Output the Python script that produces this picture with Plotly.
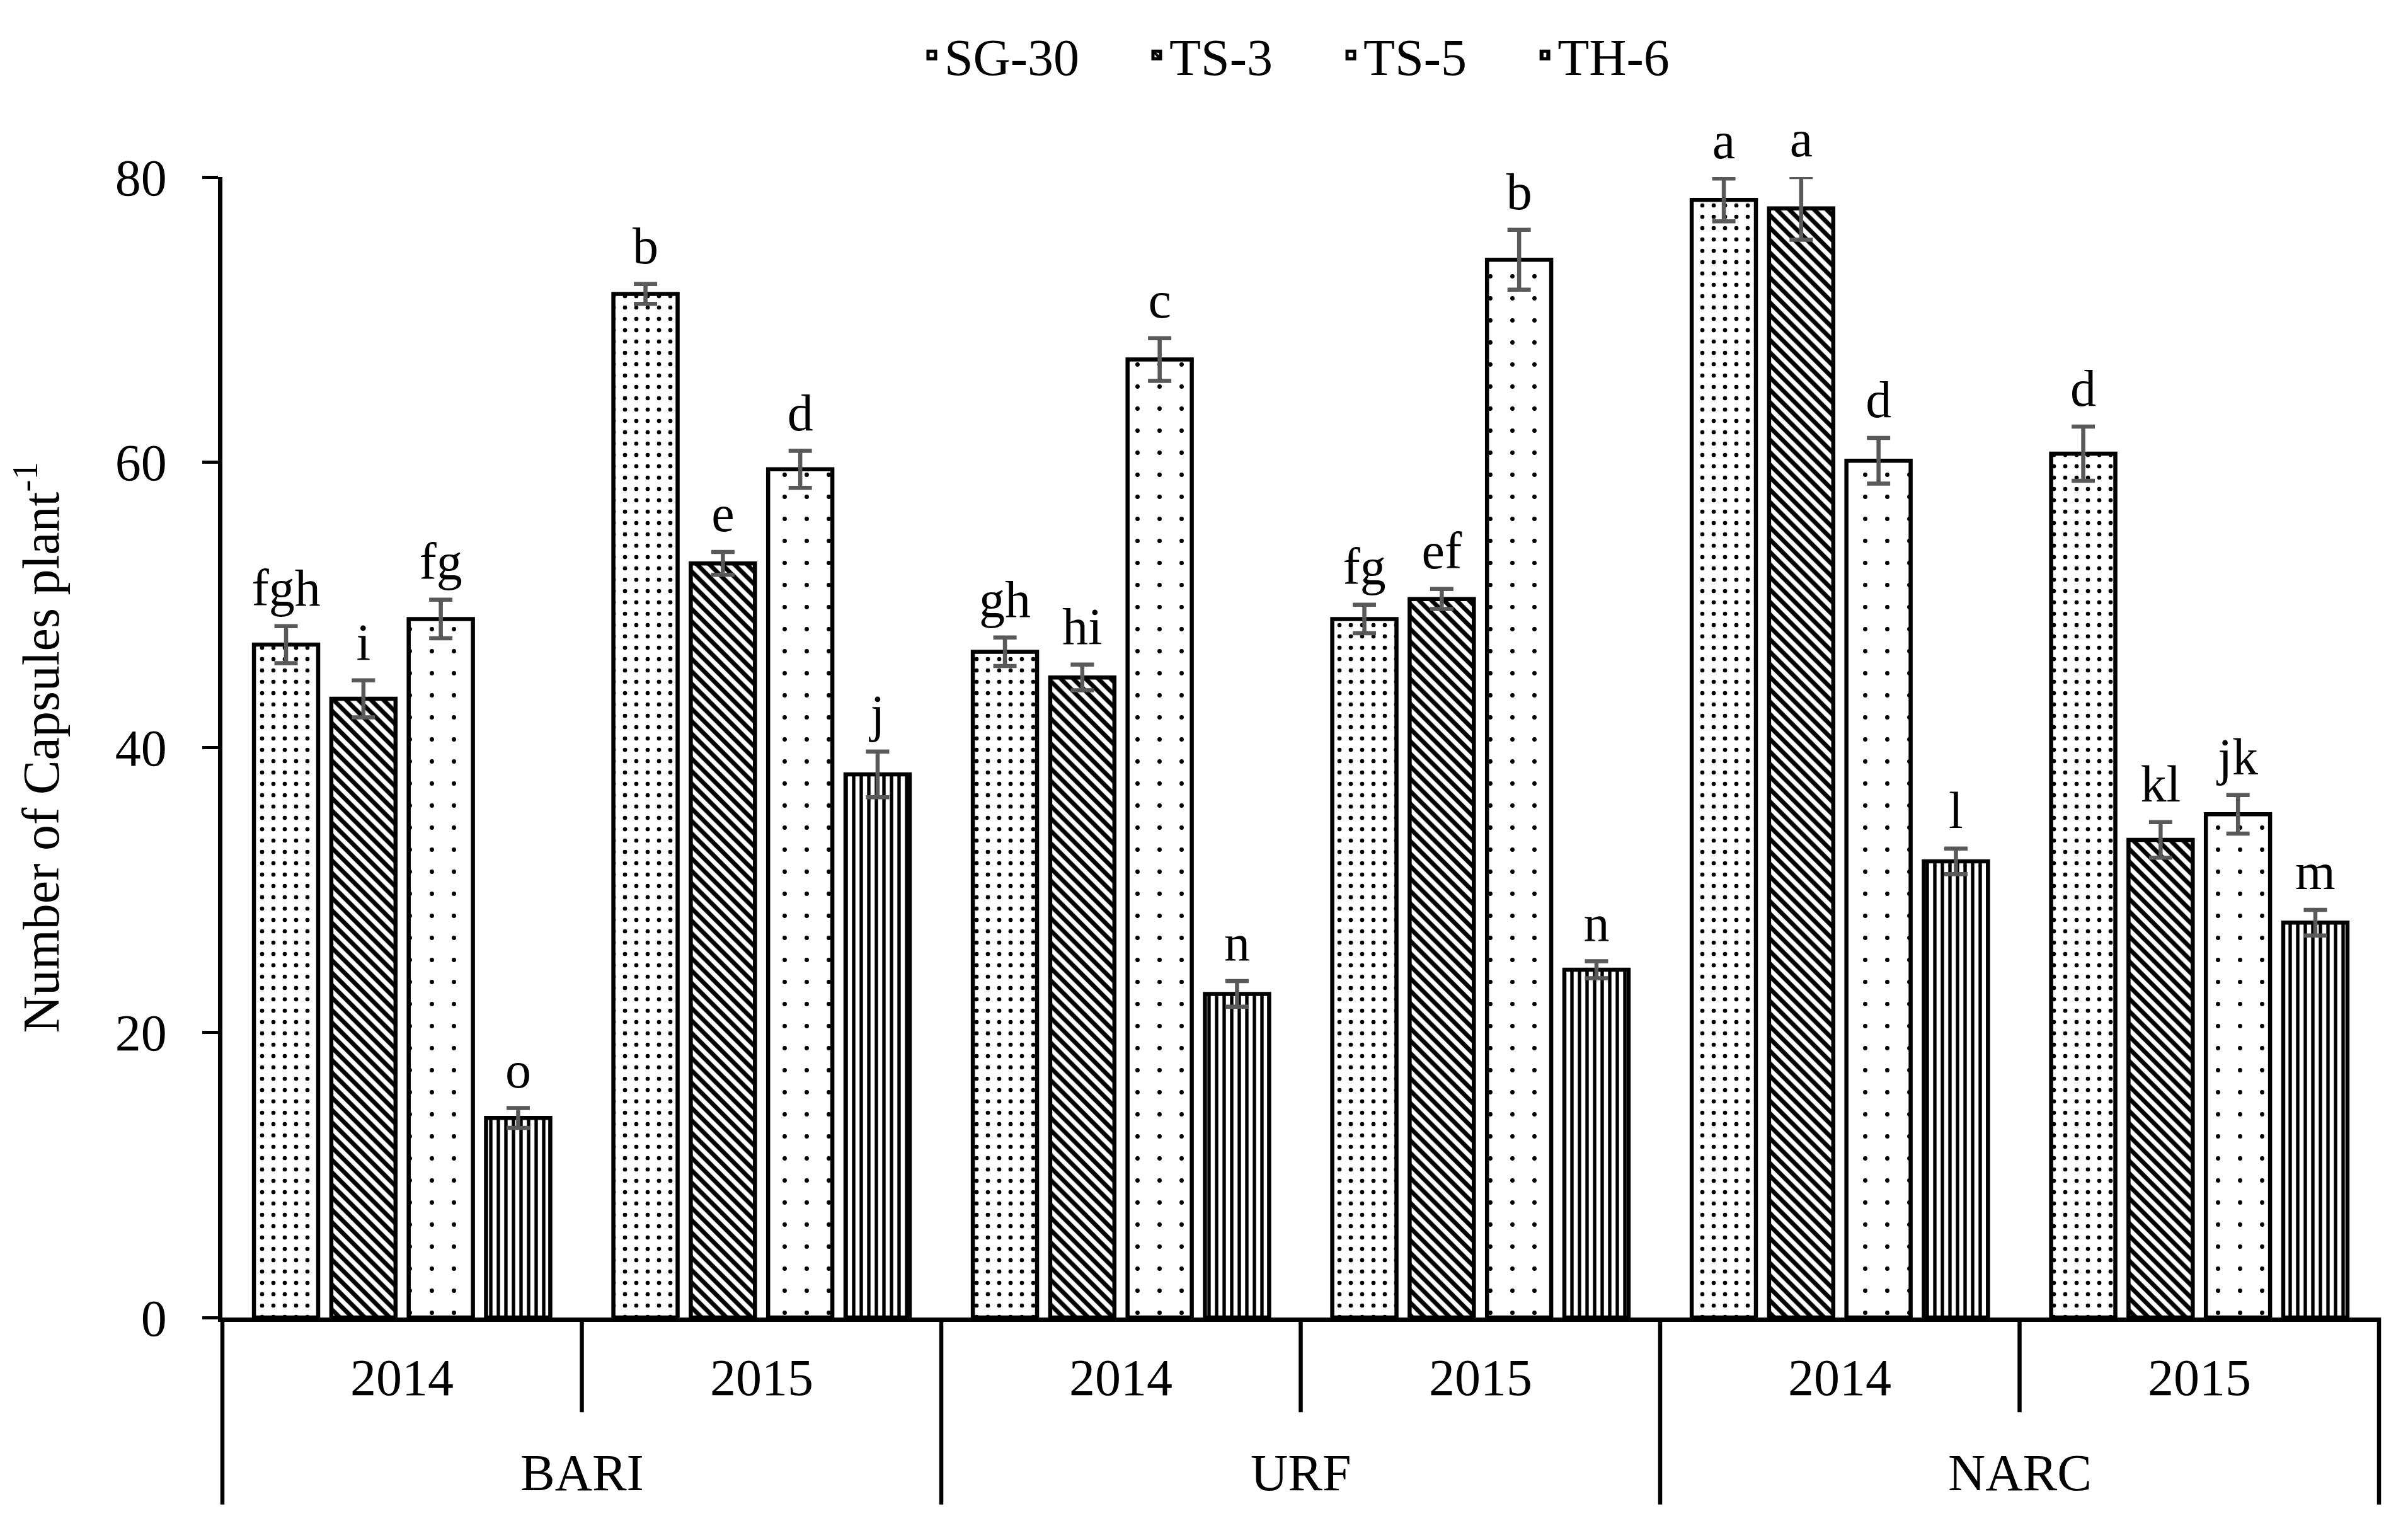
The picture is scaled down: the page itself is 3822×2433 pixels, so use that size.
import plotly.graph_objects as go

# ---------------- data ----------------
sites = ["BARI", "URF", "NARC"]
years = ["2014", "2015"]
series_names = ["SG-30", "TS-3", "TS-5", "TH-6"]

sg30 = [47.2, 71.8, 46.7, 49.0, 78.4, 60.6]
ts3 = [43.4, 52.9, 44.9, 50.4, 77.8, 33.5]
ts5 = [49.0, 59.5, 67.2, 74.2, 60.1, 35.3]
th6 = [14.0, 38.1, 22.7, 24.4, 32.0, 27.7]

sg30_err = [1.3, 0.7, 1.0, 1.0, 1.5, 1.9]
ts3_err = [1.3, 0.8, 0.9, 0.7, 2.2, 1.25]
ts5_err = [1.35, 1.3, 1.5, 2.1, 1.6, 1.35]
th6_err = [0.7, 1.6, 0.9, 0.6, 0.9, 0.9]

sg30_letters = ["fgh", "b", "gh", "fg", "a", "d"]
ts3_letters = ["i", "e", "hi", "ef", "a", "kl"]
ts5_letters = ["fg", "d", "c", "b", "d", "jk"]
th6_letters = ["o", "j", "n", "n", "l", "m"]

y_ticks = [0, 20, 40, 60, 80]
y_title = "Number of Capsules plant<sup>-1</sup>"

# ---------------- styling ----------------
FONT = "Liberation Serif"
FS = 82
ERR_COLOR = "#595959"

patterns = [
    dict(shape=".", size=18, solidity=0.11),
    dict(shape="\\", size=14, solidity=0.5),
    dict(shape=".", size=35, solidity=0.03),
    dict(shape="|", size=12, solidity=0.45),
]
# left edge (paper x) of each legend entry, one legend per series
legend_x = [0.3231, 0.4274, 0.5174, 0.6074]
legend_ids = ["legend", "legend2", "legend3", "legend4"]

values = [sg30, ts3, ts5, th6]
errors = [sg30_err, ts3_err, ts5_err, th6_err]
letters = [sg30_letters, ts3_letters, ts5_letters, th6_letters]

categories = [f"{s} {y}" for s in sites for y in years]

fig = go.Figure()

for name, vals, errs, pat, lid in zip(series_names, values, errors, patterns, legend_ids):
    fig.add_trace(go.Bar(
        name=name,
        x=categories,
        y=vals,
        legend=lid,
        marker=dict(
            color="white",
            line=dict(color="black", width=6.5),
            pattern=dict(fgcolor="black", bgcolor="white", fillmode="replace", **pat),
        ),
        error_y=dict(type="data", array=errs, visible=True,
                     color=ERR_COLOR, thickness=6.5, width=18.5),
    ))

for name, vals, errs, labs in zip(series_names, values, errors, letters):
    fig.add_trace(go.Scatter(
        x=categories,
        y=[v + e for v, e in zip(vals, errs)],
        mode="markers+text",
        text=labs,
        textposition="top center",
        textfont=dict(family=FONT, size=FS, color="black"),
        marker=dict(size=18, color="rgba(0,0,0,0)"),
        showlegend=False,
        hoverinfo="skip",
        cliponaxis=False,
    ))

# category separators and labels (below the axis)
n_cat = len(categories)
shapes = []
for b in range(n_cat + 1):
    long_line = (b % len(years) == 0)
    shapes.append(dict(
        type="line", xref="paper", yref="paper",
        x0=b / n_cat, x1=b / n_cat,
        y0=0, y1=-0.164 if long_line else -0.083,
        line=dict(color="black", width=6.5),
    ))

annotations = []
for i, cat in enumerate(categories):
    annotations.append(dict(
        x=cat, xref="x", y=-0.053, yref="paper",
        text=years[i % len(years)], showarrow=False,
        xanchor="center", yanchor="middle",
        font=dict(family=FONT, size=FS, color="black"),
    ))
for j, s in enumerate(sites):
    annotations.append(dict(
        x=j * len(years) + (len(years) - 1) / 2, xref="x", y=-0.136, yref="paper",
        text=s, showarrow=False,
        xanchor="center", yanchor="middle",
        font=dict(family=FONT, size=FS, color="black"),
    ))

legend_style = dict(
    orientation="h", xanchor="left", y=1.107, yanchor="middle",
    font=dict(family=FONT, size=FS, color="black"),
    itemwidth=30, bgcolor="rgba(0,0,0,0)",
)
legends = {lid: dict(x=lx, **legend_style) for lid, lx in zip(legend_ids, legend_x)}

# the page body has an 8px default margin; size the figure to fit inside it
fig.update_layout(
    width=3806, height=2417,
    paper_bgcolor="white", plot_bgcolor="white",
    font=dict(family=FONT, size=FS, color="black"),
    barmode="group",
    bargap=0.139,
    bargroupgap=0.17,
    scattermode="group",
    scattergap=0.139,
    margin=dict(l=345, r=38, t=273, b=334, autoexpand=False),
    showlegend=True,
    shapes=shapes,
    annotations=annotations,
    xaxis=dict(
        type="category", range=[-0.5, n_cat - 0.5],
        showline=True, linecolor="black", linewidth=6.5,
        ticks="", showticklabels=False, showgrid=False, zeroline=False,
        automargin=False,
    ),
    yaxis=dict(
        range=[0, 80], tickvals=y_ticks,
        showline=True, linecolor="black", linewidth=6.5,
        ticks="outside", ticklen=25, tickwidth=4.5, tickcolor="black",
        showgrid=False, zeroline=False,
        tickfont=dict(family=FONT, size=FS, color="black"),
        ticklabelstandoff=40,
        title=dict(text=y_title, font=dict(family=FONT, size=FS, color="black"), standoff=85),
        automargin=False,
    ),
    **legends,
)

fig.write_html("out.html")
